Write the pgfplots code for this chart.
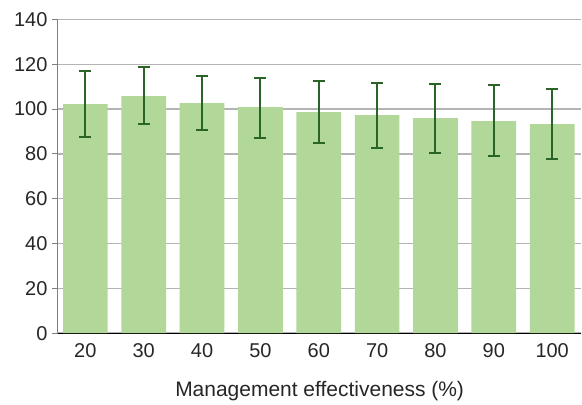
\documentclass[border=0pt]{standalone}
\usepackage{pgfplots}
\pgfplotsset{compat=1.18}
\usepackage{fontspec}
\setmainfont{Liberation Sans}
\definecolor{barfill}{HTML}{B1D799}
\definecolor{errcol}{HTML}{2A6427}
\definecolor{gridcol}{HTML}{B4B4B4}
\definecolor{txt}{HTML}{262626}

\begin{document}
\begin{tikzpicture}
\begin{axis}[%
  width=524pt,
  height=314pt,
  scale only axis,
  anchor=south west,
  at={(0,0)},
  xmin=-0.47, xmax=8.5,
  ymin=0, ymax=140,
  ytick={0,20,...,140},
  xtick={0,...,8},
  xticklabels={20,30,40,50,60,70,80,90,100},
  axis x line*=bottom,
  axis y line*=left,
  x axis line style={black, line width=1pt},
  y axis line style={gray, line width=1pt},
  ymajorgrids,
  grid style={gridcol, line width=1.3pt},
  tick align=outside,
  major tick length=6pt,
  ytick style={gray, line width=1pt},
  xtick style={draw=none},
  tick label style={font=\fontsize{20}{23}\selectfont, text=txt},
  /pgf/number format/assume math mode=true,
  yticklabel style={xshift=-1pt},
  xticklabel style={yshift=-1pt},
  xlabel={Management effectiveness (\%)},
  xlabel style={font=\fontsize{21}{24}\selectfont, text=txt, yshift=-17pt},
  clip=false,
]
\addplot[
  ybar,
  bar width=0.766,
  fill=barfill,
  draw=none,
  error bars/.cd,
  y dir=both,
  y explicit,
  error bar style={errcol, line width=2pt},
  error mark options={errcol, line width=2pt, mark size=6pt, rotate=90},
] table[row sep=crcr, x=x, y=y, y error plus=ep, y error minus=em]{
x y ep em\\
0 102.2 14.9 14.6\\
1 105.8 12.9 12.5\\
2 102.7 12.1 11.9\\
3 100.9 12.9 13.7\\
4 98.7 13.9 13.7\\
5 97.3 14.5 14.5\\
6 96.0 15.3 15.5\\
7 94.6 16.2 15.4\\
8 93.3 15.5 15.5\\
};
\end{axis}
\useasboundingbox (-58pt,-66.7pt) rectangle (524pt,333.5pt);
\end{tikzpicture}
\end{document}
